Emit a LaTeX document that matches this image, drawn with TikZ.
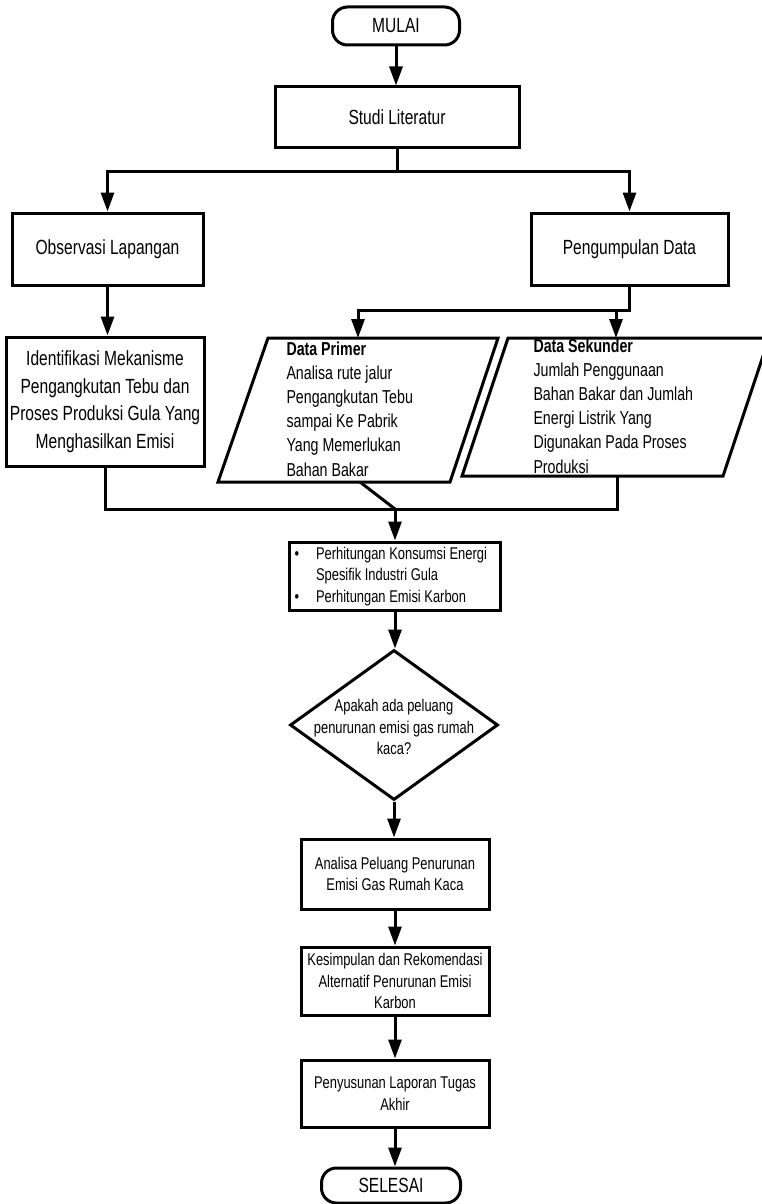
\documentclass[tikz,border=0pt]{standalone}
\usepackage{fontspec}
\setmainfont{Liberation Sans}[FakeStretch=0.76]
\usetikzlibrary{shapes.geometric,arrows.meta}

\begin{document}
\begin{tikzpicture}[x=1pt,y=-1pt,
  line width=3pt,
  box/.style={draw, rectangle, inner sep=0pt, align=center, line width=3pt},
  term/.style={draw, rounded corners=15pt, inner sep=0pt, line width=3pt},
  big/.style={font=\fontsize{20.5}{27.5}\selectfont},
  mid/.style={font=\fontsize{18.7}{24.2}\selectfont},
  small/.style={font=\fontsize{17}{21.5}\selectfont},
  flow/.style={-{Triangle[length=19pt,width=13pt]}, line width=3pt},
]
\fill[white] (0,0) rectangle (762,1204);
\useasboundingbox (0,0) rectangle (762,1204);

% ---- top of the chart
\node[term, big, minimum width=127pt, minimum height=38pt] (mulai) at (396,26) {MULAI};
\node[box, big, minimum width=244pt, minimum height=60pt] (studi) at (397,117) {Studi Literatur};
\node[box, big, minimum width=191pt, minimum height=72pt] (obs) at (107.5,249) {Observasi Lapangan};
\node[box, big, minimum width=197pt, minimum height=72pt] (peng) at (629.5,249) {Pengumpulan Data};
\node[box, big, minimum width=198pt, minimum height=129pt] (ident) at (105,401.5)
  {Identifikasi Mekanisme\\Pengangkutan Tebu dan\\Proses Produksi Gula Yang\\Menghasilkan Emisi};

% ---- data parallelograms
\node[mid, anchor=north west, align=left, inner sep=0pt] (primtxt) at (285,340)
  {\textbf{Data Primer}\\Analisa rute jalur\\Pengangkutan Tebu\\sampai Ke Pabrik\\Yang Memerlukan\\Bahan Bakar};
\node[mid, anchor=north west, align=left, inner sep=0pt] (sektxt) at (532,337)
  {\textbf{Data Sekunder}\\Jumlah Penggunaan\\Bahan Bakar dan Jumlah\\Energi Listrik Yang\\Digunakan Pada Proses\\Produksi};
\draw (268,338) -- (498,338) -- (450,482) -- (218,482) -- cycle;
\draw (508,338) -- (769,338) -- (723,476) -- (462,476) -- cycle;

% ---- lower column
\node[box, minimum width=211pt, minimum height=68pt] (perh) at (395,576) {};
\node[small, anchor=west, inner sep=0pt] (perhtxt) at (293,576.5)
  {\begin{tabular}{@{}l@{\hspace{17pt}}l@{}}
   \textbullet & Perhitungan Konsumsi Energi\\
               & Spesifik Industri Gula\\
   \textbullet & Perhitungan Emisi Karbon
   \end{tabular}};
\node[diamond, draw, minimum width=208pt, minimum height=150pt, inner sep=0pt] (dec) at (394,725) {};
\node[small, align=center, inner sep=0pt] (dectxt) at (394,727)
  {Apakah ada peluang\\penurunan emisi gas rumah\\kaca?};
\node[box, small, minimum width=188pt, minimum height=70pt] (anal) at (395,874)
  {Analisa Peluang Penurunan\\Emisi Gas Rumah Kaca};
\node[box, small, minimum width=188pt, minimum height=68pt] (kesim) at (395,981)
  {Kesimpulan dan Rekomendasi\\Alternatif Penurunan Emisi\\Karbon};
\node[box, small, minimum width=188pt, minimum height=67pt] (penyu) at (395,1093.5)
  {Penyusunan Laporan Tugas\\Akhir};
\node[term, big, minimum width=139pt, minimum height=35pt] (selesai) at (391,1185.5) {SELESAI};

% ---- junction points
\coordinate (split) at (397,171);
\coordinate (dsplit) at (629.5,310);
\coordinate (primIn) at (358,338);
\coordinate (sekIn) at (616,338);
\coordinate (primOut) at (360,482);
\coordinate (sekOut) at (617,476);
\coordinate (merge) at (395,509);

% ---- connectors
\draw[flow] (mulai.south) -- (mulai.south |- studi.north);
\draw (studi.south) -- (split);
\draw[flow] (split) -| (obs.north);
\draw[flow] (split) -| (peng.north);
\draw[flow] (obs.south) -- (obs.south |- ident.north);
\draw[flow] (peng.south) -- (dsplit) -| (primIn);
\draw[flow] (sekIn |- dsplit) -- (sekIn);
\draw (ident.south) |- (merge);
\draw (primOut) -- (merge);
\draw (sekOut) |- (merge);
\draw[flow] (merge) -- (perh.north);
\draw[flow] (perh.south) -- (perh.south |- dec.north);
\draw[flow] (dec.south) -- (dec.south |- anal.north);
\draw[flow] (anal.south) -- (kesim.north);
\draw[flow] (kesim.south) -- (penyu.north);
\draw[flow] (penyu.south) -- (penyu.south |- selesai.north);
\end{tikzpicture}
\end{document}
